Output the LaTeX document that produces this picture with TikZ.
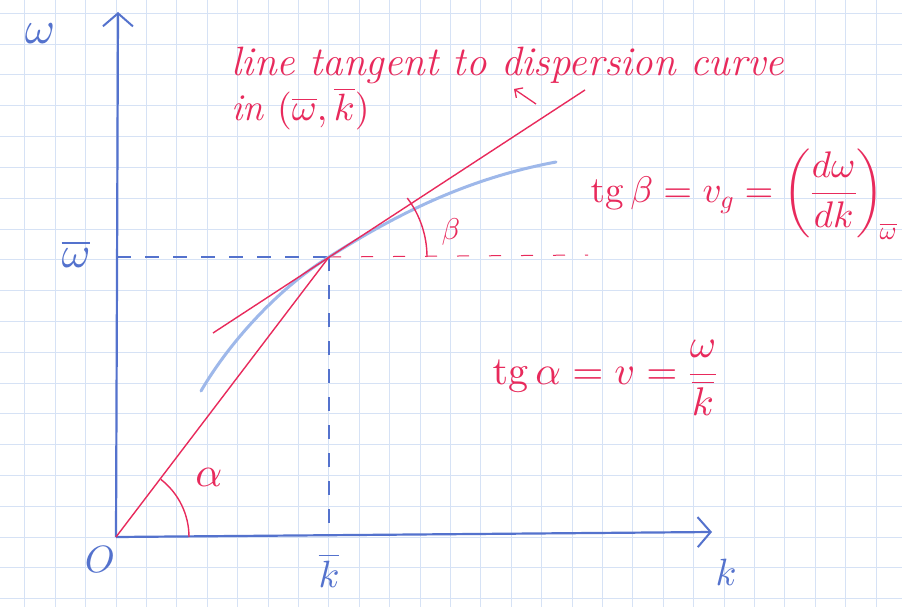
\documentclass[tikz,border=0pt]{standalone}
\usepackage{amsmath}
\DeclareFontFamily{OML}{cmm}{\skewchar\font127}
\DeclareFontShape{OML}{cmm}{m}{it}{<->cmmi10}{}
\DeclareFontFamily{OMS}{cmsy}{\skewchar\font48}
\DeclareFontShape{OMS}{cmsy}{m}{n}{<->cmsy10}{}
\DeclareFontFamily{OMX}{cmex}{}
\DeclareFontShape{OMX}{cmex}{m}{n}{<->cmex10}{}
\DeclareFontFamily{OT1}{cmr}{\hyphenchar\font45}
\DeclareFontShape{OT1}{cmr}{m}{n}{<->cmr10}{}
\usetikzlibrary{arrows.meta}
\definecolor{gridc}{RGB}{214,226,245}
\definecolor{axisblue}{RGB}{84,114,205}
\definecolor{curveblue}{RGB}{158,184,234}
\definecolor{penred}{RGB}{232,42,92}
\tikzset{
  axisline/.style={axisblue, line width=2.2pt, -{Straight Barb[length=13pt,width=30pt,line width=2pt]}},
  redline/.style={penred, line width=1.4pt},
  bluedash/.style={axisblue, line width=1.4pt, dash pattern=on 14pt off 14pt},
  reddash/.style={penred, line width=1pt, dash pattern=on 12pt off 20pt},
  curve/.style={curveblue, line width=3pt, line cap=round},
  bluelabel/.style={axisblue, font=\fontsize{38}{42}\selectfont},
}
\begin{document}
\begin{tikzpicture}[x=1pt,y=-1pt]
\useasboundingbox (0,0) rectangle (902,607);
\fill[white] (0,0) rectangle (902,607);
% graph-paper grid
\foreach \i in {-3,...,25} \draw[gridc, line width=1pt] ({116+30.4*\i},0) -- ({116+30.4*\i},607);
\foreach \j in {-2,...,17} \draw[gridc, line width=1pt] (0,{537-30.8*\j}) -- (902,{537-30.8*\j});

% key points
\coordinate (O) at (116,537);
\coordinate (P) at (329,257);
\coordinate (ytip) at (118,12);
\coordinate (xtip) at (712,532);
\coordinate (yw) at (117,257);
\coordinate (xk) at (329,535);
\coordinate (hd) at (588,255);
\coordinate (T1) at (213,333);
\coordinate (T2) at (585,90);
\coordinate (C1) at (201,391);
\coordinate (C2) at (556,162);
\coordinate (ar1) at (536,104);
\coordinate (ar2) at (514,89);

% dashed guides
\draw[bluedash] (yw) -- (P);
\draw[bluedash] (P) -- (xk);
\draw[reddash] (P) -- (hd);

% dispersion curve
\draw[curve] (C1) .. controls (232,338) and (282,286) .. (P)
                 .. controls (400,212) and (470,178) .. (C2);

% axes
\draw[axisline] (O) -- (ytip);
\draw[axisline] (O) -- (xtip);

% red lines
\draw[redline] (O) -- (P);
\draw[redline] (T1) -- (T2);
\draw[penred, line width=1.3pt, -{Straight Barb[length=6pt,width=12pt]}] (ar1) -- (ar2);

% angle arcs
\draw[penred, line width=1.4pt] (O) ++(73pt,0) arc[start angle=0, end angle=52, radius=73pt];
\draw[penred, line width=1.4pt] (P) ++(98pt,0) arc[start angle=0, end angle=37, radius=98pt];

% labels
\node[axisblue, font=\fontsize{46}{50}\selectfont] (lw) at (40,34) {$\omega$};
\node[axisblue, font=\fontsize{44}{48}\selectfont] (lwb) at (76,254) {$\overline{\omega}$};
\node[bluelabel] (lO) at (100,560) {$O$};
\node[bluelabel] (lkb) at (329,570) {$\overline{k}$};
\node[bluelabel] (lk) at (726,572) {$k$};
\node[penred, font=\fontsize{42}{46}\selectfont] (la) at (209,477) {$\alpha$};
\node[penred, font=\fontsize{30}{34}\selectfont] (lb) at (451,232) {$\beta$};

\node[penred, anchor=base west, font=\fontsize{41}{45}\selectfont\itshape] (t1) at (228,76) {line tangent to dispersion curve};
\node[penred, anchor=base west, font=\fontsize{38}{42}\selectfont\itshape] (t2) at (228,121) {in $(\overline{\omega},\overline{k})$};

\node[penred, font=\fontsize{37}{43}\selectfont] (fb) at (744,194) {$\mathrm{tg}\,\beta = v_g = \left(\dfrac{d\omega}{dk}\right)_{\!\overline{\omega}}$};
\node[penred, font=\fontsize{40}{46}\selectfont] (fa) at (605,378) {$\mathrm{tg}\,\alpha = v = \dfrac{\omega}{\overline{k}}$};
\end{tikzpicture}
\end{document}
